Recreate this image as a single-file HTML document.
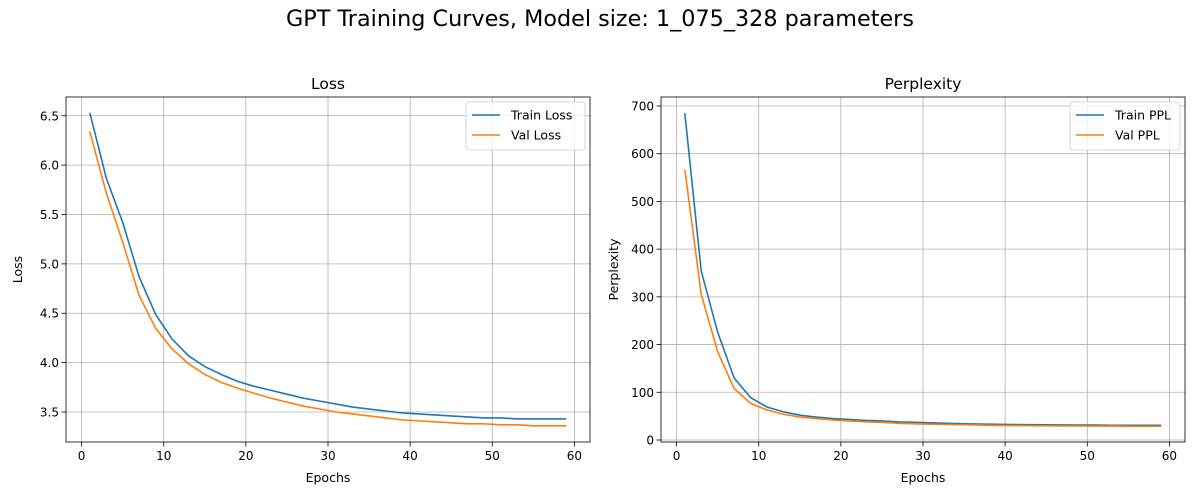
<!DOCTYPE html>
<html><head><meta charset="utf-8"><style>
body{margin:0;background:#fff;font-family:"DejaVu Sans","Liberation Sans",sans-serif;}
svg text{font-family:"DejaVu Sans","Liberation Sans",sans-serif;}
</style></head><body>
<svg id="fig" width="1200" height="500" viewBox="0 0 1200 500">
<text x="600" y="26" text-anchor="middle" font-size="22.3" fill="#000">GPT Training Curves, Model size: 1_075_328 parameters</text>
</svg>
<script>
const epochs=[1,3,5,7,9,11,13,15,17,19,21,23,25,27,29,31,33,35,37,39,41,43,45,47,49,51,53,55,57,59];
const trainLoss=[6.53,5.87,5.42,4.87,4.49,4.24,4.07,3.96,3.88,3.81,3.76,3.72,3.68,3.64,3.61,3.58,3.55,3.53,3.51,3.49,3.48,3.47,3.46,3.45,3.44,3.44,3.43,3.43,3.43,3.43];
const valLoss=[6.34,5.72,5.22,4.68,4.35,4.14,3.99,3.88,3.80,3.74,3.69,3.64,3.60,3.56,3.53,3.50,3.48,3.46,3.44,3.42,3.41,3.40,3.39,3.38,3.38,3.37,3.37,3.36,3.36,3.36];
const trainPPL=[685,354,226,130,89,69,59,52,48,45,43,41,40,38,37,36,35,34,33.4,32.8,32.5,32.1,31.8,31.5,31.2,31.2,30.9,30.9,30.9,30.9];
const valPPL=[567,305,185,108,77,63,54,48,45,42,40,38,37,35,34,33,32.5,31.8,31.2,30.6,30.3,30,29.7,29.4,29.4,29.1,29.1,28.8,28.8,28.8];
const xTicks=[0,10,20,30,40,50,60];
const lossTicks=[3.5,4.0,4.5,5.0,5.5,6.0,6.5];
const pplTicks=[0,100,200,300,400,500,600,700];

const NS="http://www.w3.org/2000/svg";
const fig=document.getElementById('fig');
function mk(tag,attrs,parent){const e=document.createElementNS(NS,tag);for(const k in attrs)e.setAttribute(k,attrs[k]);(parent||fig).appendChild(e);return e;}

function panel(o){
  const g=mk('g',{});
  
  
  const sx=v=>o.L+(v-o.x0)/(o.x1-o.x0)*(o.R-o.L);
  const sy=v=>o.B-(v-o.y0)/(o.y1-o.y0)*(o.B-o.T);
  xTicks.forEach(t=>{const x=sx(t);
    const l=mk('line',{x1:x,x2:x,y1:o.T,y2:o.B,stroke:'#b0b0b0','stroke-width':0.8},g);
    
    mk('line',{x1:x,x2:x,y1:o.B,y2:o.B+4.5,stroke:'#000','stroke-width':0.8},g);
    const tx=mk('text',{x:x,y:o.B+18,'text-anchor':'middle','font-size':12},g);tx.textContent=t;
    });
  o.yt.forEach(t=>{const y=sy(t);
    const l=mk('line',{x1:o.L,x2:o.R,y1:y,y2:y,stroke:'#b0b0b0','stroke-width':0.8},g);
    
    mk('line',{x1:o.L-4.5,x2:o.L,y1:y,y2:y,stroke:'#000','stroke-width':0.8},g);
    const tx=mk('text',{x:o.L-7,y:y+4.5,'text-anchor':'end','font-size':12},g);tx.textContent=o.fmt(t);
    });
  const cols=['#1f77b4','#ff7f0e'];
  o.series.forEach((s,i)=>{const pts=epochs.map((e,j)=>sx(e)+','+sy(s[j])).join(' ');
    const p=mk('polyline',{points:pts,fill:'none',stroke:cols[i],'stroke-width':1.6},g);
    
    });
  mk('rect',{x:o.L,y:o.T,width:o.R-o.L,height:o.B-o.T,fill:'none',stroke:'#000','stroke-width':0.8},g);
  const ti=mk('text',{x:(o.L+o.R)/2,y:o.T-8,'text-anchor':'middle','font-size':15.5},g);ti.textContent=o.title;
  
  const xl=mk('text',{x:(o.L+o.R)/2,y:o.B+40,'text-anchor':'middle','font-size':12.5},g);xl.textContent='Epochs';
  
  const yx=o.L-o.ylOff, yy=(o.T+o.B)/2;
  const yl=mk('text',{x:yx,y:yy,'text-anchor':'middle','font-size':12.5,transform:`rotate(-90 ${yx} ${yy})`},g);yl.textContent=o.ylabel;
  
  const lg=mk('g',{},g);
  
  const lw=o.legW, lx=o.R-5-lw, ly=o.T+5;
  mk('rect',{x:lx,y:ly,width:lw,height:48,rx:3,fill:'#fff','fill-opacity':0.8,stroke:'#ccc','stroke-width':0.8},lg);
  o.names.forEach((n,i)=>{const y=ly+13+i*20;
    mk('line',{x1:lx+6,x2:lx+34,y1:y,y2:y,stroke:cols[i],'stroke-width':1.6},lg);
    const t=mk('text',{x:lx+45,y:y+4.5,'font-size':12.5},lg);t.textContent=n;
    });
}
panel({name:'loss-chart',L:66,R:590,T:97,B:442,x0:-1.9,x1:61.9,y0:3.196,y1:6.69,yt:lossTicks,fmt:v=>v.toFixed(1),
  series:[trainLoss,valLoss],names:['Train Loss','Val Loss'],title:'Loss',ylabel:'Loss',ylOff:44,legW:119});
panel({name:'perplexity-chart',L:661,R:1185,T:97,B:442,x0:-1.9,x1:61.9,y0:-4.2,y1:718.8,yt:pplTicks,fmt:v=>v,
  series:[trainPPL,valPPL],names:['Train PPL','Val PPL'],title:'Perplexity',ylabel:'Perplexity',ylOff:43,legW:110});
</script>
</body></html>
